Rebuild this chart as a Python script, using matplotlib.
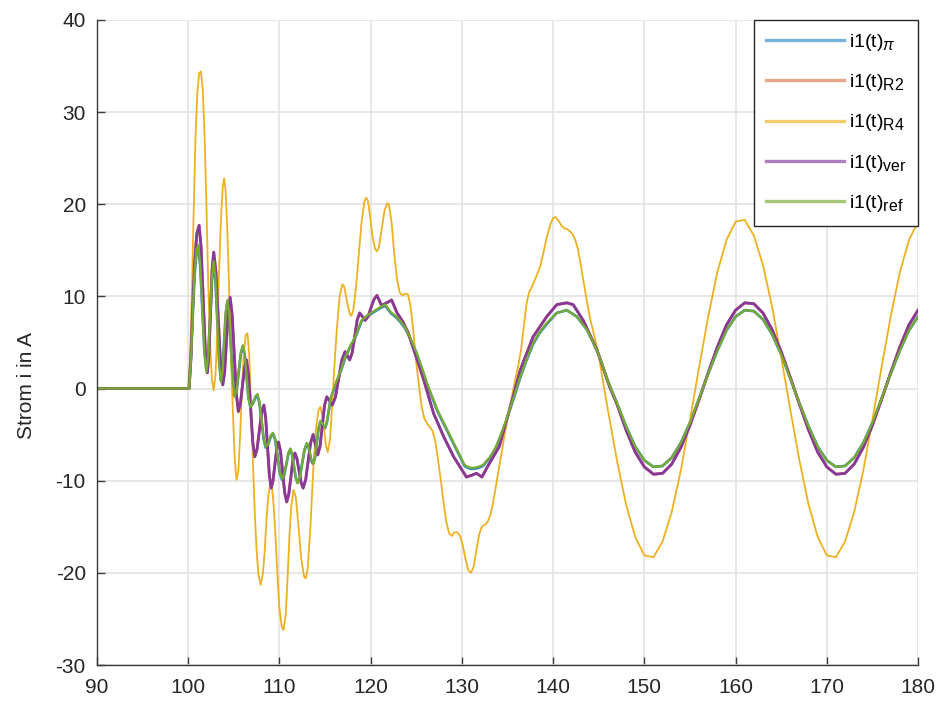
import matplotlib
matplotlib.use("Agg")
import matplotlib.pyplot as plt
import matplotlib._mathtext as mathtext_internals

plt.rcParams['font.family'] = ['Liberation Sans', 'DejaVu Sans']
plt.rcParams['mathtext.fontset'] = 'custom'
plt.rcParams['mathtext.rm'] = 'Liberation Sans'
plt.rcParams['mathtext.it'] = 'Liberation Sans:italic'
plt.rcParams['axes.unicode_minus'] = False
# the legend subscripts in the original are only a little smaller than the text
mathtext_internals.SHRINK_FACTOR = 0.82

# i1(t)_ref (green)
t_ref = [90, 100.1, 100.3, 100.5, 100.7, 100.9, 101.1, 101.32, 101.55, 101.78, 102.0,
         102.2, 102.4, 102.6, 102.8, 103.0, 103.2, 103.4, 103.6, 103.78, 103.95, 104.12, 104.3,
         104.5, 104.7, 104.9, 105.1, 105.32, 105.55, 105.78, 106.0, 106.2, 106.4, 106.6, 106.8,
         107.0, 107.2, 107.4, 107.6, 107.82, 108.05, 108.28, 108.5, 108.7, 108.9, 109.1, 109.3,
         109.55, 109.8, 110.05, 110.3, 110.52, 110.75, 110.98, 111.2, 111.4, 111.6, 111.8, 112.0,
         112.25, 112.5, 112.75, 113.0, 113.18, 113.35, 113.52, 113.7, 113.9, 114.1, 114.3, 114.5,
         114.75, 115.0, 115.2, 115.4, 115.6, 115.8, 116.3, 116.8, 117.2, 117.7, 118.3, 119.0,
         119.7, 120.5, 121.0, 121.6, 122.2, 122.7, 123.2, 123.8, 124.3, 125.0, 125.6, 126.2,
         126.8, 127.3, 127.9, 128.4, 129.0, 129.5, 130.3, 130.9, 131.4, 131.8, 132.3, 133.1,
         133.7, 134.2, 134.8, 135.3, 135.9, 136.4, 137.1, 137.8, 138.5, 139.3, 140.4, 141.5,
         142.6, 143.7, 144.4, 145.1, 146, 147, 148, 149, 150, 151, 152, 153, 154, 155, 156,
         157, 158, 159, 160, 161, 162, 163, 164, 165, 166, 167, 168, 169, 170, 171, 172, 173,
         174, 175, 176, 177, 178, 179, 180]
i_ref = [0, 0, 3, 8, 12.5, 15, 15.6, 13.5, 8.7, 3.9, 1.8,
         3.6, 7.8, 12.0, 13.8, 11.8, 7.3, 2.7, 0.7, 2.0, 5.2, 8.3, 9.6,
         8.0, 4.4, 0.7, -0.9, -0.1, 1.9, 3.9, 4.7, 3.7, 1.4, -1.0, -2.0,
         -1.8, -1.3, -0.8, -0.6, -1.5, -3.5, -5.4, -6.3, -6.1, -5.6, -5.0, -4.8,
         -5.5, -7.3, -9.1, -9.8, -9.3, -8.2, -7.0, -6.5, -7.1, -8.4, -9.7, -10.3,
         -9.6, -8.1, -6.6, -5.9, -6.2, -7.0, -7.8, -8.1, -7.4, -5.8, -4.2, -3.5,
         -3.85, -4.2, -3.6, -2.4, -1.1, -0.5, 0.9, 2.2, 3.4, 4.5, 5.6, 7.4,
         8.0, 8.5, 8.8, 9.1, 8.3, 7.9, 7.4, 6.6, 5.6, 4.0, 2.3, 0.5,
         -1.0, -2.3, -3.5, -4.5, -5.7, -6.7, -8.3, -8.6, -8.6, -8.5, -8.3, -7.4,
         -6.4, -5.2, -3.6, -2.1, -0.3, 1.3, 3.2, 4.9, 6.1, 7.1, 8.2, 8.5,
         7.8, 6.4, 5.0, 3.4, 0.8, -1.6, -4.1, -6.3, -7.8, -8.5, -8.4, -7.5, -5.9, -3.7, -1.1,
         1.6, 4.1, 6.3, 7.8, 8.5, 8.4, 7.5, 5.9, 3.7, 1.1, -1.6, -4.1, -6.3, -7.8, -8.5, -8.4, -7.5,
         -5.9, -3.7, -1.1, 1.6, 4.1, 6.3, 7.8]

# i1(t)_pi (blue), nearly on top of the reference curve
t_pi = list(t_ref)
i_pi = [0, 0, 3, 7.8, 12.2, 14.7, 15.3, 13.4, 8.8, 4.1, 2.0,
        3.7, 7.7, 11.8, 13.6, 11.7, 7.3, 2.9, 0.9, 2.1, 5.1, 8.1, 9.4,
        7.9, 4.4, 0.8, -0.8, -0.1, 1.8, 3.8, 4.6, 3.6, 1.4, -0.9, -1.9,
        -1.8, -1.4, -0.9, -0.8, -1.6, -3.6, -5.5, -6.4, -6.2, -5.7, -5.1, -4.9,
        -5.6, -7.4, -9.2, -9.9, -9.4, -8.3, -7.1, -6.6, -7.2, -8.5, -9.7, -10.2,
        -9.6, -8.1, -6.7, -6.0, -6.3, -7.1, -7.9, -8.2, -7.5, -5.9, -4.3, -3.6,
        -3.9, -4.3, -3.7, -2.5, -1.2, -0.6, 0.8, 2.1, 3.3, 4.4, 5.5, 7.3,
        7.9, 8.4, 8.7, 9.0, 8.2, 7.8, 7.3, 6.5, 5.5, 3.9, 2.2, 0.4,
        -1.1, -2.4, -3.6, -4.6, -5.8, -6.8, -8.4, -8.7, -8.7, -8.6, -8.4, -7.5,
        -6.5, -5.3, -3.7, -2.2, -0.4, 1.2, 3.1, 4.8, 6.0, 7.0, 8.2, 8.5,
        7.8, 6.4, 5.0, 3.4, 0.8, -1.6, -4.1, -6.3, -7.8, -8.5, -8.4, -7.5, -5.9, -3.7, -1.1,
        1.6, 4.1, 6.3, 7.8, 8.5, 8.4, 7.5, 5.9, 3.7, 1.1, -1.6, -4.1, -6.3, -7.8, -8.5, -8.4, -7.5,
        -5.9, -3.7, -1.1, 1.6, 4.1, 6.3, 7.8]

# i1(t)_ver (purple); i1(t)_R2 (orange) lies right underneath it
t_ver = [90, 100.1, 100.3, 100.5, 100.7, 100.95, 101.2, 101.42, 101.65, 101.88, 102.1,
         102.28, 102.45, 102.62, 102.8, 103.05, 103.3, 103.55, 103.8, 104.0, 104.2, 104.4, 104.6,
         104.82, 105.05, 105.28, 105.5, 105.72, 105.95, 106.18, 106.4, 106.62, 106.85, 107.08, 107.3,
         107.55, 107.8, 108.05, 108.3, 108.5, 108.7, 108.9, 109.1, 109.3, 109.5, 109.7, 109.9,
         110.12, 110.35, 110.58, 110.8, 111.02, 111.25, 111.48, 111.7, 111.92, 112.15, 112.38, 112.6,
         112.88, 113.15, 113.42, 113.7, 113.95, 114.2, 114.45, 114.7, 114.95, 115.2, 115.5, 115.8,
         116.15, 116.5, 116.85, 117.2, 117.45, 117.7, 117.98, 118.25, 118.52, 118.8, 119.1, 119.4,
         119.72, 120.05, 120.38, 120.7, 120.95, 121.2, 121.75, 122.3, 122.9, 123.5, 124.1, 125.1,
         125.8, 126.9, 128.0, 129.1, 129.8, 130.5, 131.1, 131.6, 132.2, 132.8, 134.1, 135.3,
         136.4, 137.8, 139.3, 140.4, 141.5, 142.2, 143.3, 144.8, 146.2, 147, 148, 149, 150, 151,
         152, 153, 154, 155, 156, 157, 158, 159, 160, 161, 162, 163, 164, 165, 166, 167, 168,
         169, 170, 171, 172, 173, 174, 175, 176, 177, 178, 179, 180]
i_ver = [0, 0, 3.5, 9, 13.5, 16.8, 17.7, 15.3, 9.7, 4.1, 1.7,
         3.7, 8.3, 12.8, 14.8, 12.6, 7.6, 2.6, 0.4, 1.8, 5.2, 8.5, 9.9,
         8.0, 3.7, -0.6, -2.5, -1.7, 0.3, 2.3, 3.1, 1.5, -2.2, -5.8, -7.4,
         -6.6, -4.6, -2.6, -1.8, -3.2, -6.3, -9.4, -10.8, -10.0, -8.3, -6.6, -5.8,
         -6.8, -9.1, -11.3, -12.3, -11.5, -9.7, -7.8, -7.0, -7.6, -8.9, -10.2, -10.8,
         -9.9, -7.9, -5.9, -5.0, -6.1, -7.2, -6.3, -4.0, -1.8, -0.9, -1.35, -1.8,
         -0.9, 1.1, 3.1, 4.0, 3.55, 3.1, 3.9, 5.6, 7.4, 8.2, 7.8, 7.4,
         7.8, 8.8, 9.7, 10.1, 9.55, 9.0, 9.3, 9.6, 8.2, 7.3, 6.1, 3.1,
         1.0, -2.7, -5.2, -7.4, -8.5, -9.6, -9.4, -9.2, -9.6, -8.5, -6.3, -2.0,
         2.0, 5.6, 7.8, 9.1, 9.3, 9.1, 7.4, 4.2, 0.2, -1.7, -4.5, -6.9, -8.5, -9.3,
         -9.2, -8.2, -6.4, -4.0, -1.2, 1.7, 4.5, 6.9, 8.5, 9.3, 9.2, 8.2, 6.4, 4.0, 1.2, -1.7, -4.5,
         -6.9, -8.5, -9.3, -9.2, -8.2, -6.4, -4.0, -1.2, 1.7, 4.5, 6.9, 8.5]
t_r2 = list(t_ver)
i_r2 = list(i_ver)

# i1(t)_R4 (yellow)
t_r4 = [90, 100.0, 100.2, 100.4, 100.6, 100.8, 101.0, 101.2, 101.4, 101.6, 101.8, 102.0,
        102.2, 102.4, 102.6, 102.8, 103.0, 103.2, 103.4, 103.6, 103.8, 103.95, 104.1, 104.3,
        104.5, 104.7, 104.9, 105.1, 105.3, 105.5, 105.7, 105.9, 106.1, 106.3, 106.5, 106.7,
        106.9, 107.1, 107.3, 107.5, 107.7, 107.95, 108.2, 108.4, 108.6, 108.8, 109.0, 109.2,
        109.4, 109.6, 109.8, 110.0, 110.25, 110.45, 110.7, 110.9, 111.1, 111.3, 111.55, 111.8,
        112.1, 112.4, 112.7, 112.9, 113.1, 113.4, 113.7, 114.0, 114.3, 114.5, 114.8, 115.1,
        115.3, 115.55, 115.8, 116.0, 116.3, 116.6, 116.9, 117.1, 117.4, 117.7, 117.9, 118.1,
        118.4, 118.7, 119.0, 119.3, 119.5, 119.7, 119.9, 120.2, 120.5, 120.7, 120.9, 121.2,
        121.5, 121.8, 122.0, 122.3, 122.6, 122.9, 123.2, 123.5, 123.8, 124.1, 124.4, 124.7,
        125.0, 125.3, 125.6, 125.9, 126.2, 126.5, 126.8, 127.1, 127.4, 127.7, 128.0, 128.3,
        128.6, 128.9, 129.2, 129.5, 129.8, 130.1, 130.4, 130.7, 131.0, 131.3, 131.6, 131.9,
        132.2, 132.5, 132.8, 133.1, 133.4, 133.7, 134.0, 134.3, 134.6, 135.0, 135.4, 135.8,
        136.2, 136.5, 136.8, 137.1, 137.4, 137.7, 138.0, 138.3, 138.6, 139.0, 139.3, 139.7,
        140.0, 140.3, 140.6, 140.9, 141.2, 141.5, 141.8, 142.1, 142.4, 142.7, 143.0, 143.3,
        143.7, 144.1, 144.4, 144.8, 145.1, 145.5, 146, 147, 148, 149, 150, 151, 152, 153,
        154, 155, 156, 157, 158, 159, 160, 161, 162, 163, 164, 165, 166, 167, 168, 169, 170,
        171, 172, 173, 174, 175, 176, 177, 178, 179, 180]
i_r4 = [0, 0, 3, 10, 19, 27, 32, 34.2, 34.4, 32.5, 27.5, 20,
        11.5, 5, 1, -0.2, 1.5, 6.5, 13, 18.5, 22, 22.8, 21.5, 17,
        10.5, 3.5, -2.5, -7.5, -9.9, -9, -5, 0, 3.8, 5.8, 6.0, 3.5,
        -2, -8, -13.5, -17.5, -20.2, -21.3, -20, -17.5, -14, -11.5, -10.4, -10.8,
        -13, -16.5, -20.5, -23.8, -25.8, -26.2, -24.5, -20.5, -16, -12.8, -11.0, -11.8,
        -15, -18.5, -20.4, -20.6, -19.5, -15, -9, -4.5, -2.3, -2.0, -3.5, -6.2,
        -6.9, -5.5, -1.5, 2, 6.5, 10, 11.3, 11.1, 9.5, 8.1, 7.9, 8.5,
        11, 14.5, 18, 20.2, 20.7, 20.4, 19, 16.5, 15.1, 14.9, 15.3, 17.2,
        19.2, 20.1, 20, 18, 14.5, 11.8, 10.4, 10.1, 10.3, 10.2, 8.8, 6,
        2.8, 0.3, -2, -3.3, -3.8, -4.2, -4.6, -5.8, -7.8, -10, -12.4, -14.5,
        -15.7, -16, -15.6, -15.6, -16, -17, -18.5, -19.7, -20, -19.3, -17.5, -15.8,
        -15.0, -14.8, -14.5, -13.8, -12.5, -10.8, -9, -7.3, -5.5, -3.3, -1.3, 0.7,
        2.6, 4.3, 6.8, 9.3, 10.5, 11.1, 11.8, 12.5, 13.3, 15, 16.4, 17.8,
        18.5, 18.6, 18.2, 17.7, 17.4, 17.3, 17.1, 16.8, 16.2, 15.2, 13.6, 11.8,
        9.5, 7.4, 6.2, 4.5, 3.0, 0.6, -2.3, -7.8, -12.6, -16.1, -18.1, -18.3, -16.6, -13.4,
        -8.9, -3.4, 2.3, 7.8, 12.6, 16.1, 18.1, 18.3, 16.6, 13.4, 8.9, 3.4, -2.3, -7.8, -12.6, -16.1, -18.1,
        -18.3, -16.6, -13.4, -8.9, -3.4, 2.3, 7.8, 12.6, 16.1, 18.1]

fig = plt.figure(figsize=(9.41, 7.09), dpi=100)
ax = fig.add_axes([0.103, 0.062, 0.8726, 0.910])

ax.plot(t_pi, i_pi, color='#2F8ACB', lw=2.0, label=r'i1(t)$_{\pi}$')
ax.plot(t_r2, i_r2, color='#E0764D', lw=2.0, label=r'i1(t)$_{\mathrm{R2}}$')
ax.plot(t_r4, i_r4, color='#EDB120', lw=1.3, label=r'i1(t)$_{\mathrm{R4}}$')
ax.plot(t_ver, i_ver, color='#87399A', lw=2.0, label=r'i1(t)$_{\mathrm{ver}}$')
ax.plot(t_ref, i_ref, color='#77AC30', lw=1.6, label=r'i1(t)$_{\mathrm{ref}}$')

ax.set_xlim(90, 180)
ax.set_ylim(-30, 40)
ax.set_xticks(range(90, 181, 10))
ax.set_yticks(range(-30, 41, 10))
ax.grid(True, color='#e3e3e3', lw=1.2)
ax.set_axisbelow(True)
ax.spines['top'].set_visible(False)
ax.spines['right'].set_visible(False)
for s in ('left', 'bottom'):
    ax.spines[s].set_color('#3a3a3a')
    ax.spines[s].set_linewidth(1.0)
ax.tick_params(direction='in', length=6, width=1.0, color='#3a3a3a',
               labelsize=15, labelcolor='#262626')
ax.tick_params(axis='x', pad=9)
ax.tick_params(axis='y', pad=8)
ax.set_ylabel('Strom i in A', fontsize=15, color='#262626')
ax.yaxis.set_label_coords(-0.074, 0.433)

leg = ax.legend(loc='upper right', borderaxespad=0, fontsize=14, handlelength=4.0,
                labelspacing=1.0, fancybox=False, framealpha=1, edgecolor='#262626',
                handletextpad=0.25, borderpad=0.6)
leg.get_frame().set_linewidth(1.0)
for ln in leg.get_lines():
    ln.set_linewidth(2.4)
    ln.set_alpha(0.65)

fig.savefig('out.png', dpi=100)
